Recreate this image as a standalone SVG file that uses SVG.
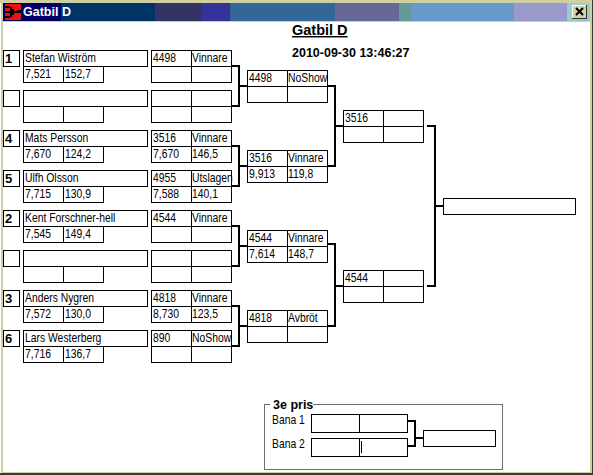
<svg xmlns="http://www.w3.org/2000/svg" width="593" height="475" viewBox="0 0 593 475">
<style>
text{font-family:"Liberation Sans",Arial,sans-serif;font-size:12.5px;fill:#000;transform-box:fill-box;transform-origin:0 50%;transform:translateY(-.6px) scaleX(.83)}
.b{font-weight:bold;transform:none}
.n{font-weight:bold;font-size:13px;transform:none}
.s{font-size:14.5px;font-weight:bold;transform:none}
.c{fill:#fff;stroke:#000;stroke-width:1;shape-rendering:crispEdges}
.l{fill:none;stroke:#000;stroke-width:1;shape-rendering:crispEdges}
.k{fill:none;stroke:#000;stroke-width:2;shape-rendering:crispEdges}
.g{fill:none;stroke:#6e6e6e;stroke-width:1;shape-rendering:crispEdges}
</style>
<defs>
<g id="player"><rect class="c" x="23.5" y="0.5" width="124" height="16"/><rect class="c" x="23.5" y="16.5" width="40" height="16"/><rect class="c" x="63.5" y="16.5" width="40" height="16"/></g>
<rect id="seed" class="c" x="3.5" y="0.5" width="16" height="16"/>
<g id="res"><rect class="c" x="0.5" y="0.5" width="80" height="32"/><path class="l" d="M40.5 0.5V32.5M0.5 16.5H80.5"/></g>
</defs>
<g id="window">
<rect width="593" height="475" fill="#fff"/>
<path fill="#cfcfa0" d="M0 0H593V3H0ZM1 0H3V473H1ZM590 0H592V473H590ZM1 472H592V473H1Z"/>
<path fill="#3a3a3a" d="M592 0H593V475H592ZM0 473H593V475H0Z"/>
<rect x="3" y="3" width="58" height="18" fill="#000066"/>
<rect x="61" y="3" width="94" height="18" fill="#003366"/>
<rect x="155" y="3" width="47" height="18" fill="#333366"/>
<rect x="202" y="3" width="28" height="18" fill="#333399"/>
<rect x="230" y="3" width="105" height="18" fill="#336699"/>
<rect x="335" y="3" width="64" height="18" fill="#666699"/>
<rect x="399" y="3" width="12" height="18" fill="#669999"/>
<rect x="411" y="3" width="103" height="18" fill="#6699cc"/>
<rect x="514" y="3" width="53" height="18" fill="#9999cc"/>
<rect x="567" y="3" width="23" height="18" fill="#99cccc"/>
<rect x="3" y="21" width="587" height="1" fill="#cfcfa0"/>
<rect x="5" y="4" width="16" height="16" fill="#ee1111"/>
<path fill="#000" d="M5 6H10V8H5ZM5 11H10V13H5ZM5 16H10V18H5ZM10 7H12V9H14V11H17V13H14V15H12V17H10ZM17 10H21V13H17Z"/>
<text x="23" y="16" class="b" style="fill:#fff">Gatbil D</text>
<rect x="572" y="5" width="15" height="14" fill="#d4d0a8"/>
<path d="M572 19H587V5H586V18H572Z" fill="#333"/>
<path d="M572 5H586V6H573V18H572Z" fill="#fff"/>
<path d="M576 8L583 15M583 8L576 15" stroke="#000" stroke-width="2" fill="none"/>
</g>
<g id="heading">
<text x="292" y="35" class="s" text-decoration="underline">Gatbil D</text>
<text x="292" y="57" class="b">2010-09-30 13:46:27</text>
</g>
<g id="connectors">
<path class="k" d="M232 66H239V106H232M239 86H247"/>
<path class="k" d="M232 146H239V186H232M239 166H247"/>
<path class="k" d="M232 226H239V266H232M239 246H247"/>
<path class="k" d="M232 306H239V346H232M239 326H247"/>
<path class="k" d="M328 86H335V166H328M335 126H343"/>
<path class="k" d="M328 244H335V326H328M335 286H343"/>
<path class="k" d="M427 126H435V286H427M435 206H443"/>
<path class="k" d="M408 421H415V446H408M415 438H423"/>
</g>
<g id="s1" transform="translate(0,50)"><use href="#seed"/><use href="#player"/><text x="5" y="13" class="n">1</text><text x="25" y="13">Stefan Wiström</text><text x="25" y="29">7,521</text><text x="65" y="29">152,7</text></g>
<g id="s2" transform="translate(0,90)"><use href="#seed"/><use href="#player"/></g>
<g id="s3" transform="translate(0,130)"><use href="#seed"/><use href="#player"/><text x="5" y="13" class="n">4</text><text x="25" y="13">Mats Persson</text><text x="25" y="29">7,670</text><text x="65" y="29">124,2</text></g>
<g id="s4" transform="translate(0,170)"><use href="#seed"/><use href="#player"/><text x="5" y="13" class="n">5</text><text x="25" y="13">Ulfh Olsson</text><text x="25" y="29">7,715</text><text x="65" y="29">130,9</text></g>
<g id="s5" transform="translate(0,210)"><use href="#seed"/><use href="#player"/><text x="5" y="13" class="n">2</text><text x="25" y="13">Kent Forschner-hell</text><text x="25" y="29">7,545</text><text x="65" y="29">149,4</text></g>
<g id="s6" transform="translate(0,250)"><use href="#seed"/><use href="#player"/></g>
<g id="s7" transform="translate(0,290)"><use href="#seed"/><use href="#player"/><text x="5" y="13" class="n">3</text><text x="25" y="13">Anders Nygren</text><text x="25" y="29">7,572</text><text x="65" y="29">130,0</text></g>
<g id="s8" transform="translate(0,330)"><use href="#seed"/><use href="#player"/><text x="5" y="13" class="n">6</text><text x="25" y="13">Lars Westerberg</text><text x="25" y="29">7,716</text><text x="65" y="29">136,7</text></g>
<g id="q1" transform="translate(151,50)"><use href="#res"/><text x="2" y="13">4498</text><text x="41" y="13">Vinnare</text></g>
<g id="q2" transform="translate(151,90)"><use href="#res"/></g>
<g id="q3" transform="translate(151,130)"><use href="#res"/><text x="2" y="13">3516</text><text x="41" y="13">Vinnare</text><text x="2" y="29">7,670</text><text x="41" y="29">146,5</text></g>
<g id="q4" transform="translate(151,170)"><use href="#res"/><text x="2" y="13">4955</text><text x="41" y="13">Utslagen</text><text x="2" y="29">7,588</text><text x="41" y="29">140,1</text></g>
<g id="q5" transform="translate(151,210)"><use href="#res"/><text x="2" y="13">4544</text><text x="41" y="13">Vinnare</text></g>
<g id="q6" transform="translate(151,250)"><use href="#res"/></g>
<g id="q7" transform="translate(151,290)"><use href="#res"/><text x="2" y="13">4818</text><text x="41" y="13">Vinnare</text><text x="2" y="29">8,730</text><text x="41" y="29">123,5</text></g>
<g id="q8" transform="translate(151,330)"><use href="#res"/><text x="2" y="13">890</text><text x="41" y="13">NoShow</text></g>
<g id="r1" transform="translate(247,70)"><use href="#res"/><text x="2" y="13">4498</text><text x="41" y="13">NoShow</text></g>
<g id="r2" transform="translate(247,150)"><use href="#res"/><text x="2" y="13">3516</text><text x="41" y="13">Vinnare</text><text x="2" y="29">9,913</text><text x="41" y="29">119,8</text></g>
<g id="r3" transform="translate(247,230)"><use href="#res"/><text x="2" y="13">4544</text><text x="41" y="13">Vinnare</text><text x="2" y="29">7,614</text><text x="41" y="29">148,7</text></g>
<g id="r4" transform="translate(247,310)"><use href="#res"/><text x="2" y="13">4818</text><text x="41" y="13">Avbröt</text></g>
<g id="t1" transform="translate(343,110)"><use href="#res"/><text x="2" y="13">3516</text></g>
<g id="t2" transform="translate(343,270)"><use href="#res"/><text x="2" y="13">4544</text></g>
<g id="final"><rect class="c" x="443.5" y="198.5" width="132" height="16"/></g>
<g id="third">
<path class="g" d="M270 404.5H264.5V469.5H502.5V404.5H313"/>
<text x="273" y="409" class="b">3e pris</text>
<text x="272" y="425">Bana 1</text>
<text x="272" y="449">Bana 2</text>
<g id="b1"><rect class="c" x="311.5" y="414.5" width="96" height="18"/><path class="l" d="M359.5 414.5V432.5"/></g>
<g id="b2"><rect class="c" x="311.5" y="438.5" width="96" height="18"/><path class="l" d="M359.5 438.5V456.5M361.5 441V453"/></g>
<g id="b3"><rect class="c" x="423.5" y="430.5" width="72" height="16"/></g>
</g>
</svg>
